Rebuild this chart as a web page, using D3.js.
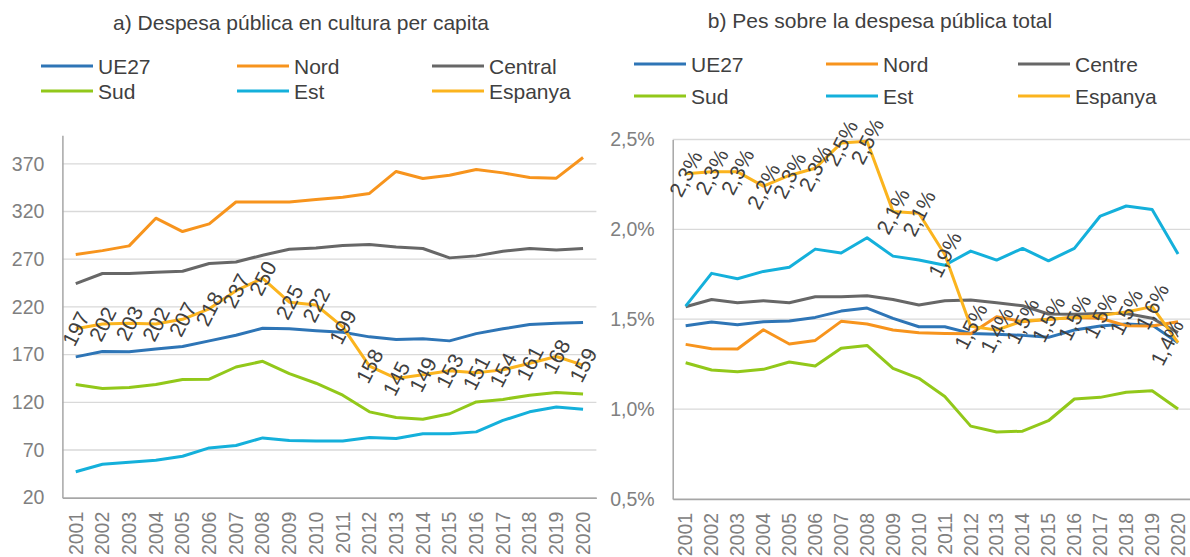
<!DOCTYPE html>
<html>
<head>
<meta charset="utf-8">
<script src="https://cdn.jsdelivr.net/npm/d3@7"></script>
<style>
    body { margin: 0; background: #fff; }
    svg { display: block; font-family: "Liberation Sans", Arial, sans-serif; }
</style>
</head>
<body>
<div id="chart"></div>
<script>
// Categories
const years = ['2001','2002','2003','2004','2005','2006','2007','2008','2009','2010',
               '2011','2012','2013','2014','2015','2016','2017','2018','2019','2020'];

// a) Despesa pública en cultura per capita
const despUE27 = [167.6,173.3,173,176,178.5,184.4,190.3,197.7,197,195,193.5,188.6,185.8,186.5,184.4,192,197,201.5,203,203.6];
const despNord = [275,279,284,313,299,307,330,330,330,332.6,335,339,362,354.6,358,364,360.5,355.6,355,376.6];
const despCentral = [244.5,255,255,256.4,257.4,265.5,267,274.2,280.5,281.8,284.3,285.4,282.9,281.2,271.4,273.5,278.4,281.2,279.7,281.2];
const despSud = [138.6,134.4,135.5,138.6,143.9,144.2,157,163,150,140,127.5,110,104,102.2,108,120.4,123,127.5,130.3,128.8];
const despEst = [47.2,55,57.2,59.3,63.5,72.2,74.7,82.7,80,79.5,79.5,83,82,87,87,89,101,110,115,112.8];
const despEspanya = [197,202,203,202,207,218,237,250,225,222,199,158,145,149,153,151,154,161,168,159];
const despTicks = [20,70,120,170,220,270,320,370];

// b) Pes sobre la despesa pública total (%)
const pesUE27 = [1.464,1.484,1.469,1.486,1.49,1.51,1.545,1.562,1.505,1.458,1.458,1.421,1.416,1.41,1.399,1.44,1.462,1.473,1.467,1.369];
const pesNord = [1.36,1.336,1.334,1.441,1.362,1.382,1.488,1.473,1.44,1.425,1.421,1.419,1.514,1.486,1.499,1.51,1.505,1.464,1.462,1.486];
const pesCentre = [1.569,1.61,1.592,1.603,1.592,1.625,1.625,1.63,1.61,1.579,1.603,1.607,1.592,1.575,1.529,1.527,1.532,1.532,1.505,1.425];
const pesSud = [1.258,1.217,1.208,1.221,1.262,1.239,1.338,1.354,1.226,1.171,1.07,0.905,0.872,0.877,0.935,1.056,1.065,1.093,1.102,1.0];
const pesEst = [1.573,1.755,1.725,1.766,1.789,1.89,1.868,1.953,1.851,1.829,1.80,1.879,1.829,1.894,1.825,1.894,2.074,2.13,2.111,1.863];
const pesEspanya = [2.31,2.32,2.32,2.24,2.30,2.34,2.48,2.49,2.10,2.09,1.86,1.46,1.44,1.49,1.50,1.51,1.52,1.54,1.57,1.37];
const pesTicks = [0.5,1.0,1.5,2.0,2.5];

// Colours
const colors = {
    UE27: '#2e75b6', Nord: '#f7941d', Central: '#676767',
    Sud: '#92c81a', Est: '#14b0db', Espanya: '#fbb41e'
};

const svg = d3.select('#chart').append('svg')
    .attr('width', 1190)
    .attr('height', 557);

const commaFmt = d3.format('.1f');

function drawPanel(cfg) {
    const g = svg.append('g');

    // Title
    g.append('text')
        .attr('x', cfg.titleX)
        .attr('y', cfg.titleY)
        .attr('text-anchor', 'middle')
        .attr('dominant-baseline', 'central')
        .style('font-size', '21px')
        .style('fill', '#404040')
        .text(cfg.title);

    // Legend (3 columns x 2 rows)
    cfg.series.forEach((s, i) => {
        const col = i % 3, row = Math.floor(i / 3);
        const lx = cfg.legendX[col];
        const ly = cfg.legendY[row];
        g.append('line')
            .attr('x1', lx).attr('x2', lx + 52)
            .attr('y1', ly).attr('y2', ly)
            .attr('stroke', s.color)
            .attr('stroke-width', 3);
        g.append('text')
            .attr('x', lx + 57)
            .attr('y', ly)
            .attr('dominant-baseline', 'central')
            .style('font-size', '21px')
            .style('fill', '#404040')
            .text(s.name);
    });

    // Scales
    const x = d3.scaleBand()
        .domain(years)
        .range([cfg.left, cfg.right]);

    const y = d3.scaleLinear()
        .domain(cfg.yDomain)
        .range([cfg.bottom, cfg.top]);

    // Grid lines
    g.append('g')
        .selectAll('line')
        .data(cfg.ticks)
        .enter()
        .append('line')
        .attr('x1', cfg.left)
        .attr('x2', cfg.right)
        .attr('y1', d => y(d))
        .attr('y2', d => y(d))
        .attr('stroke', '#d9d9d9')
        .attr('stroke-width', 1.3);

    // Y axis
    const yAxis = g.append('g')
        .attr('transform', `translate(${cfg.left},0)`)
        .call(d3.axisLeft(y)
            .tickValues(cfg.ticks)
            .tickSize(0)
            .tickPadding(cfg.tickPad)
            .tickFormat(cfg.tickFormat));
    yAxis.select('.domain').attr('stroke', '#a6a6a6').attr('stroke-width', 1.5);
    yAxis.selectAll('text')
        .style('font-size', '19.5px')
        .style('font-family', '"Liberation Sans", Arial, sans-serif')
        .style('fill', '#808080');

    // X axis
    const xAxis = g.append('g')
        .attr('transform', `translate(0,${cfg.bottom})`)
        .call(d3.axisBottom(x).tickSize(0).tickPadding(0));
    xAxis.select('.domain').attr('stroke', '#a6a6a6').attr('stroke-width', 1.5);
    xAxis.selectAll('text')
        .attr('transform', 'rotate(-90)')
        .attr('x', -14)
        .attr('y', 0)
        .attr('dy', '0.35em')
        .style('text-anchor', 'end')
        .style('font-size', '19.5px')
        .style('font-family', '"Liberation Sans", Arial, sans-serif')
        .style('fill', '#808080');

    // Lines
    const line = d3.line()
        .x((d, i) => x(years[i]) + x.bandwidth() / 2)
        .y(d => y(d));

    cfg.series.forEach(s => {
        g.append('path')
            .datum(s.values)
            .attr('d', line)
            .attr('fill', 'none')
            .attr('stroke', s.color)
            .attr('stroke-width', 3)
            .attr('stroke-linejoin', 'round');
    });

    // Data labels for Espanya (kept inside the picture at the right edge)
    const lab = cfg.series[5];
    g.append('g')
        .selectAll('text')
        .data(lab.values)
        .enter()
        .append('text')
        .attr('transform', (d, i) => {
            const px = Math.min(x(years[i]) + x.bandwidth() / 2, 1167);
            return `translate(${px},${y(d)}) rotate(-63)`;
        })
        .attr('text-anchor', 'middle')
        .attr('dominant-baseline', 'central')
        .style('font-size', '21px')
        .style('fill', '#404040')
        .text(cfg.labelFormat);
}

// Panel a
drawPanel({
    title: 'a) Despesa pública en cultura per capita',
    titleX: 301, titleY: 22,
    legendX: [41, 237, 432],
    legendY: [66, 91],
    left: 62.4, right: 596.4, top: 135.2, bottom: 497.7,
    yDomain: [20, 400],
    ticks: despTicks,
    tickPad: 18,
    tickFormat: d => d,
    labelFormat: d => d,
    series: [
        { name: 'UE27', color: colors.UE27, values: despUE27 },
        { name: 'Nord', color: colors.Nord, values: despNord },
        { name: 'Central', color: colors.Central, values: despCentral },
        { name: 'Sud', color: colors.Sud, values: despSud },
        { name: 'Est', color: colors.Est, values: despEst },
        { name: 'Espanya', color: colors.Espanya, values: despEspanya }
    ]
});

// Panel b
drawPanel({
    title: 'b) Pes sobre la despesa pública total',
    titleX: 880, titleY: 20,
    legendX: [634, 826, 1018],
    legendY: [64, 96],
    left: 672.7, right: 1191, top: 139.5, bottom: 498.9,
    yDomain: [0.5, 2.5],
    ticks: pesTicks,
    tickPad: 18,
    tickFormat: d => commaFmt(d).replace('.', ',') + '%',
    labelFormat: d => commaFmt(d).replace('.', ',') + '%',
    series: [
        { name: 'UE27', color: colors.UE27, values: pesUE27 },
        { name: 'Nord', color: colors.Nord, values: pesNord },
        { name: 'Centre', color: colors.Central, values: pesCentre },
        { name: 'Sud', color: colors.Sud, values: pesSud },
        { name: 'Est', color: colors.Est, values: pesEst },
        { name: 'Espanya', color: colors.Espanya, values: pesEspanya }
    ]
});
</script>
</body>
</html>
